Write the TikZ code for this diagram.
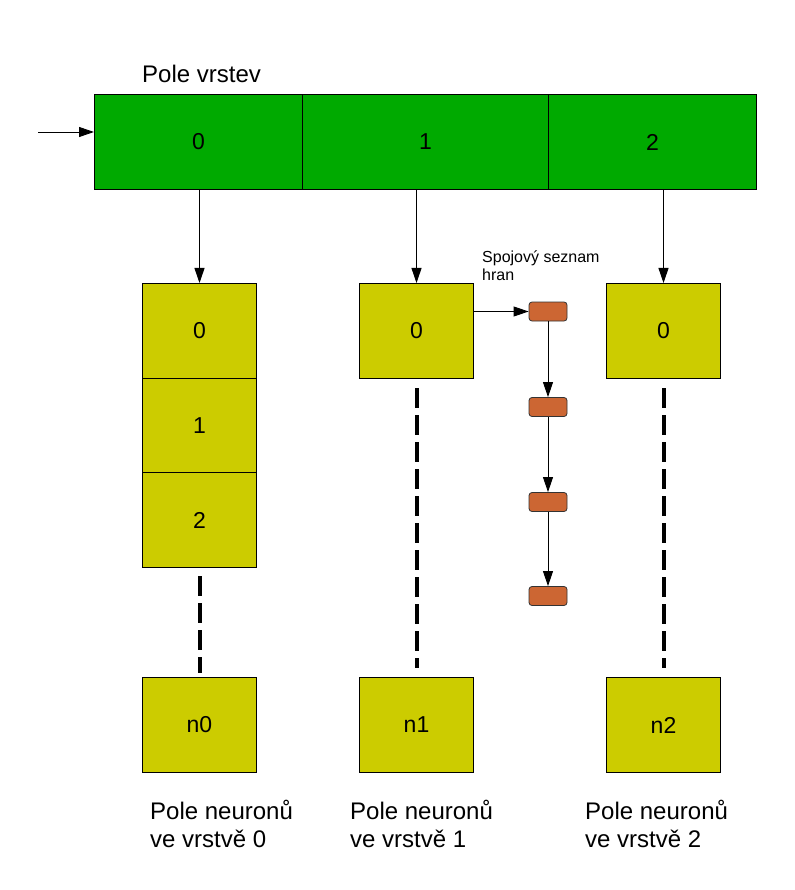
\documentclass[tikz,border=0pt]{standalone}
\usepackage{fontspec}
\setmainfont{Liberation Sans}
\usetikzlibrary{arrows.meta}
\definecolor{grn}{HTML}{00AA00}
\definecolor{olv}{HTML}{CCCC00}
\definecolor{org}{HTML}{CC6633}
\begin{document}
\begin{tikzpicture}[x=1pt,y=-1pt,
  cell/.style={draw=black,line width=1pt,fill=grn,minimum width=#1,minimum height=95pt,inner sep=0pt,anchor=north west,font=\fontsize{23}{26}\selectfont},
  nbox/.style={draw=black,line width=1pt,fill=olv,minimum width=114pt,minimum height=95pt,inner sep=0pt,anchor=north west,font=\fontsize{23}{26}\selectfont},
  edge/.style={draw=black!80,line width=0.8pt,fill=org,rounded corners=3pt,minimum width=38pt,minimum height=19pt,inner sep=0pt},
  arr/.style={line width=0.9pt,-{Triangle[length=15pt,width=10pt]}},
  dash line/.style={line width=4pt,dash pattern=on 20pt off 7pt},
  lbl/.style={font=\fontsize{24}{28}\selectfont,align=left,anchor=north west,inner sep=0pt}]
\useasboundingbox (0,0) rectangle (794,890);
% top array
\node[cell=208pt] (c0) at (94,94) {0};
\node[cell=246pt] (c1) at (302,94) {1};
\node[cell=208pt] (c2) at (548,94) {2};
\node[font=\fontsize{24}{26}\selectfont,anchor=base west,inner sep=0pt] (title) at (142,83) {Pole vrstev};
\coordinate (start) at (38,132);
\draw[arr] (start) -- (start -| c0.west);
% column 0
\node[nbox] (a0) at (142,283) {0};
\node[nbox] (a1) at (142,378) {1};
\node[nbox] (a2) at (142,472) {2};
\node[nbox] (an) at (142,677) {n0};
% column 1
\node[nbox] (b0) at (359,283) {0};
\node[nbox] (bn) at (359,677) {n1};
% column 2
\node[nbox] (d0) at (606,283) {0};
\node[nbox] (dn) at (606,677) {n2};
% arrows down
\draw[arr] (c0.south -| a0.north) -- (a0.north);
\draw[arr] (c1.south -| b0.north) -- (b0.north);
\draw[arr] (c2.south -| d0.north) -- (d0.north);
% dashed
\draw[dash line] ([yshift=-8pt]a2.south) -- ([yshift=4pt]an.north);
\draw[dash line] ([yshift=-9pt]b0.south) -- ([yshift=9pt]bn.north);
\draw[dash line] ([yshift=-9pt]d0.south) -- ([yshift=9pt]dn.north);
% linked list
\node[edge] (e0) at (548,311.5) {};
\node[edge] (e1) at (548,407) {};
\node[edge] (e2) at (548,502) {};
\node[edge] (e3) at (548,596) {};
\draw[arr] (b0.east |- e0.west) -- (e0.west);
\draw[arr] (e0) -- (e1);
\draw[arr] (e1) -- (e2);
\draw[arr] (e2) -- (e3);
\node[font=\fontsize{16}{18}\selectfont,align=left,anchor=north west,inner sep=0pt] (sl) at (482,251) {Spojový seznam\\hran};
% labels
\node[lbl] (l0) at (150,800) {Pole neuronů\\ve vrstvě 0};
\node[lbl] (l1) at (350,800) {Pole neuronů\\ve vrstvě 1};
\node[lbl] (l2) at (585,800) {Pole neuronů\\ve vrstvě 2};
\end{tikzpicture}
\end{document}
